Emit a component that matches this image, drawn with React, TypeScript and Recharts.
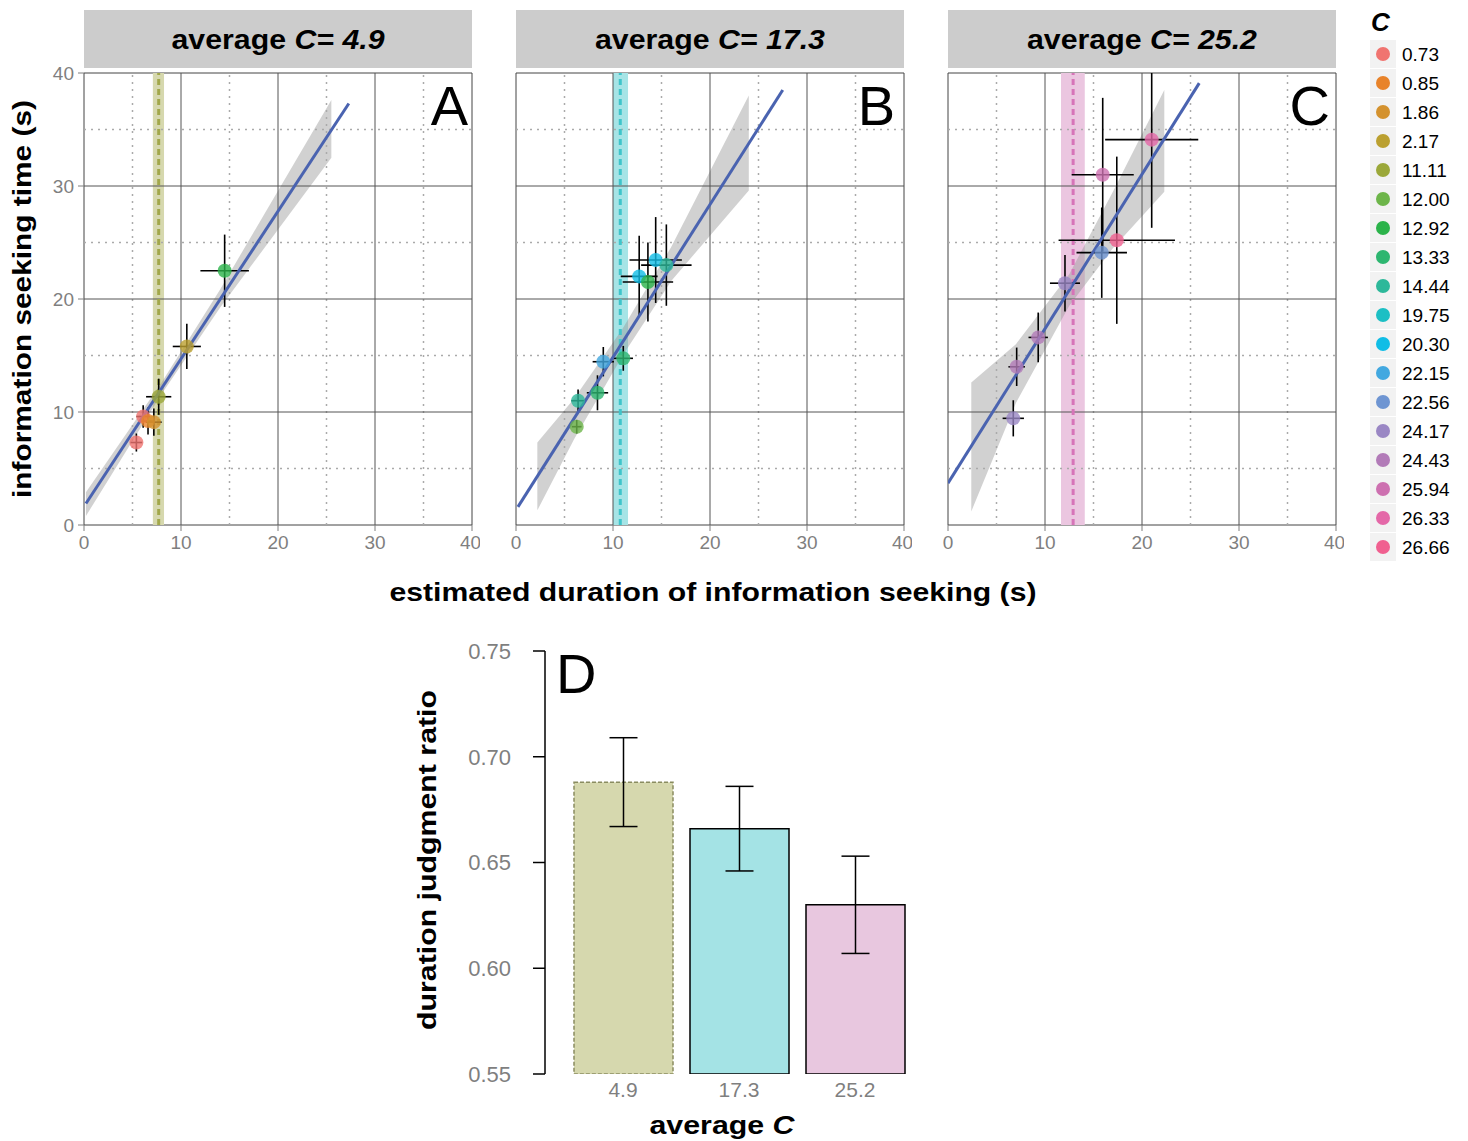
import React from 'react';
import {
  ComposedChart, Scatter, Line, Area, XAxis, YAxis, ReferenceLine, ReferenceArea,
  ErrorBar, BarChart, Bar, Cell,
} from 'recharts';

// ---------- data ----------
const legendLevels = ['0.73', '0.85', '1.86', '2.17', '11.11', '12.00', '12.92', '13.33', '14.44', '19.75', '20.30', '22.15', '22.56', '24.17', '24.43', '25.94', '26.33', '26.66'];
const legendColors = ['#F07470', '#E8832A', '#D4922E', '#BBA030', '#9BA83A', '#6DB54A', '#2BB34A', '#2DB670', '#2DB89A', '#1CBFC4', '#10BDE6', '#42A8E0', '#6E95D2', '#9A87C4', '#B27BB8', '#CD70B0', '#E468A8', '#F06090'];

const panelAverages = ['4.9', '17.3', '25.2'];
const panelLetters = ['A', 'B', 'C'];
const axisTicks = [0, 10, 20, 30, 40];
const majorGrid = [10, 20, 30];
const minorGrid = [5, 15, 25, 35];

const pointsA = [
  { x: 5.4, y: 7.3, ex: 0.6, ey: 0.8, c: '0.73' },
  { x: 6.1, y: 9.6, ex: 0.7, ey: 1.0, c: '0.73' },
  { x: 6.6, y: 9.2, ex: 0.7, ey: 1.2, c: '0.85' },
  { x: 7.2, y: 9.1, ex: 0.8, ey: 1.2, c: '1.86' },
  { x: 7.7, y: 11.35, ex: 1.3, ey: 1.6, c: '11.11' },
  { x: 10.6, y: 15.8, ex: 1.45, ey: 2.0, c: '2.17' },
  { x: 14.5, y: 22.5, ex: 2.5, ey: 3.2, c: '12.92' },
];
const pointsB = [
  { x: 6.26, y: 8.7, ex: 0.5, ey: 0.6, c: '12.00' },
  { x: 6.4, y: 11.0, ex: 0.7, ey: 1.0, c: '14.44' },
  { x: 8.4, y: 11.7, ex: 1.1, ey: 1.55, c: '13.33' },
  { x: 9.0, y: 14.45, ex: 1.1, ey: 1.3, c: '22.15' },
  { x: 11.06, y: 14.75, ex: 1.0, ey: 1.1, c: '13.33' },
  { x: 12.7, y: 22.0, ex: 1.9, ey: 3.6, c: '20.30' },
  { x: 13.6, y: 21.5, ex: 2.6, ey: 3.5, c: '12.92' },
  { x: 14.4, y: 23.45, ex: 2.7, ey: 3.8, c: '20.30' },
  { x: 15.5, y: 23.0, ex: 2.6, ey: 3.6, c: '14.44' },
];
const pointsC = [
  { x: 6.73, y: 9.44, ex: 1.1, ey: 1.6, c: '24.17' },
  { x: 7.08, y: 14.0, ex: 0.85, ey: 1.7, c: '24.43' },
  { x: 9.3, y: 16.6, ex: 1.0, ey: 2.2, c: '24.43' },
  { x: 12.06, y: 21.4, ex: 1.55, ey: 2.5, c: '24.17' },
  { x: 15.85, y: 24.1, ex: 2.6, ey: 4.0, c: '22.56' },
  { x: 17.4, y: 25.2, ex: 6.0, ey: 7.4, c: '26.66' },
  { x: 15.95, y: 31.0, ex: 3.2, ey: 6.8, c: '25.94' },
  { x: 21.0, y: 34.1, ex: 4.8, ey: [7.8, 5.9], c: '26.33' },
];

const fitA = [{ x: 0.2, fit: 1.9 }, { x: 27.3, fit: 37.3 }];
const fitB = [{ x: 0.2, fit: 1.6 }, { x: 27.5, fit: 38.5 }];
const fitC = [{ x: 0.0, fit: 3.7 }, { x: 25.9, fit: 39.1 }];

const bandA = [
  { x: 0.2, lo: 0.8, hi: 2.9 },
  { x: 8, lo: 11.6, hi: 12.6 },
  { x: 14, lo: 19.2, hi: 20.8 },
  { x: 25.5, lo: 32.5, hi: 37.6 },
];
const bandB = [
  { x: 2.2, lo: 1.3, hi: 7.3 },
  { x: 6, lo: 7.6, hi: 11.2 },
  { x: 11, lo: 15.0, hi: 17.4 },
  { x: 16, lo: 21.6, hi: 24.6 },
  { x: 24, lo: 29.6, hi: 38.0 },
];
const bandC = [
  { x: 2.4, lo: 1.2, hi: 12.6 },
  { x: 7, lo: 10.8, hi: 16.0 },
  { x: 12.5, lo: 19.4, hi: 22.2 },
  { x: 17, lo: 24.5, hi: 29.5 },
  { x: 22.3, lo: 29.5, hi: 38.5 },
];

const meanBands = [
  { lo: 7.1, hi: 8.25, mean: 7.7 },
  { lo: 10.0, hi: 11.55, mean: 10.75 },
  { lo: 11.65, hi: 14.1, mean: 12.9 },
];
const meanFill = ['#D6D8AE', '#A6E4E6', '#EBC6E0'];
const meanStroke = ['#A2A84A', '#3FC5CB', '#D674B8'];

const barCats = ['4.9', '17.3', '25.2'];
const barValues = [0.688, 0.666, 0.630];
const barErrors = [0.021, 0.020, 0.023];
const barTicks = [0.55, 0.6, 0.65, 0.7, 0.75];
const barFills = ['#D6D8AE', '#A4E3E5', '#E8C7DF'];

// ---------- helpers ----------
const FONT = '"Liberation Sans", Arial, Helvetica, sans-serif';
const GRAY = '#7f7f7f';
const colorOf = (c: string) => legendColors[legendLevels.indexOf(c)] || '#888';

const PointShape = (props: any) => {
  const { cx, cy, payload } = props;
  if (cx == null || cy == null) return null;
  return <circle cx={cx} cy={cy} r={7} fill={colorOf(payload.c)} fillOpacity={0.8} />;
};

type PanelProps = {
  idx: number;
  points: any[];
  fit: any[];
  band: any[];
  showY: boolean;
};

const Panel = ({ idx, points, fit, band, showY }: PanelProps) => {
  const bandData = band.map((b) => ({ x: b.x, range: [b.lo, b.hi] }));
  const mb = meanBands[idx];
  const marginLeft = showY ? 54 : 8;
  const width = showY ? 480 : 404;
  return (
    <ComposedChart
      width={width}
      height={560}
      margin={{ top: 73, right: 8, bottom: 5, left: marginLeft }}
    >
      <XAxis
        type="number"
        dataKey="x"
        domain={[0, 40]}
        ticks={axisTicks}
        allowDataOverflow
        axisLine={false}
        tickLine={{ stroke: GRAY }}
        tickSize={6}
        tickMargin={5}
        tick={{ fill: GRAY, fontSize: 19 }}
        height={30}
      />
      <YAxis
        type="number"
        domain={[0, 40]}
        ticks={axisTicks}
        allowDataOverflow
        hide={!showY}
        axisLine={false}
        tickLine={{ stroke: GRAY }}
        tickSize={6}
        tickMargin={4}
        tick={{ fill: GRAY, fontSize: 19 }}
        width={30}
      />
      {minorGrid.map((v) => (
        <ReferenceLine key={'mx' + v} x={v} stroke="#aaaaaa" strokeWidth={1.5} strokeDasharray="2 5" />
      ))}
      {minorGrid.map((v) => (
        <ReferenceLine key={'my' + v} y={v} stroke="#aaaaaa" strokeWidth={1.5} strokeDasharray="2 5" />
      ))}
      {majorGrid.map((v) => (
        <ReferenceLine key={'Mx' + v} x={v} stroke="#555555" strokeWidth={1} />
      ))}
      {majorGrid.map((v) => (
        <ReferenceLine key={'My' + v} y={v} stroke="#555555" strokeWidth={1} />
      ))}
      <ReferenceArea x1={0} x2={40} y1={0} y2={40} fill="none" stroke="#444" strokeWidth={1} />
      <ReferenceArea x1={mb.lo} x2={mb.hi} y1={0} y2={40} fill={meanFill[idx]} fillOpacity={1} stroke="none" />
      <ReferenceLine x={mb.mean} stroke={meanStroke[idx]} strokeWidth={3} strokeDasharray="6 4" />
      <Scatter data={points} dataKey="y" shape={PointShape} isAnimationActive={false}>
        <ErrorBar dataKey="ex" direction="x" width={0} stroke="#000" strokeWidth={1.6} />
        <ErrorBar dataKey="ey" direction="y" width={0} stroke="#000" strokeWidth={1.6} />
      </Scatter>
      <Area
        data={bandData}
        dataKey="range"
        type="linear"
        stroke="none"
        fill="#999999"
        fillOpacity={0.45}
        isAnimationActive={false}
        activeDot={false}
      />
      <Line
        data={fit}
        dataKey="fit"
        type="linear"
        stroke="#4A63B0"
        strokeWidth={3}
        dot={false}
        activeDot={false}
        isAnimationActive={false}
      />
    </ComposedChart>
  );
};

const BarPanel = () => {
  const data = barCats.map((c, i) => ({ cat: c, value: barValues[i], err: barErrors[i] }));
  return (
    <BarChart width={478} height={484} data={data} margin={{ top: 31, right: 10, left: 0, bottom: 0 }} barSize={99}>
      <XAxis
        dataKey="cat"
        axisLine={false}
        tickLine={false}
        padding={{ left: 20, right: 0 }}
        tick={{ fill: GRAY, fontSize: 21 }}
        height={30}
      />
      <YAxis
        type="number"
        domain={[0.55, 0.75]}
        ticks={barTicks}
        allowDataOverflow
        tickFormatter={(v: number) => v.toFixed(2)}
        axisLine={{ stroke: '#000', strokeWidth: 1.5 }}
        tickLine={{ stroke: '#000', strokeWidth: 1.5 }}
        tickSize={12}
        tickMargin={22}
        tick={{ fill: GRAY, fontSize: 22 }}
        width={100}
      />
      <Bar dataKey="value" isAnimationActive={false} stroke="#000" strokeWidth={1.5}>
        {data.map((d, i) => (
          <Cell
            key={d.cat}
            fill={barFills[i]}
            stroke={i === 0 ? '#8a8c60' : '#000'}
            strokeDasharray={i === 0 ? '4 2' : undefined}
          />
        ))}
        <ErrorBar dataKey="err" width={14} stroke="#000" strokeWidth={1.5} />
      </Bar>
    </BarChart>
  );
};

const stripX = [84, 516, 948];
const stripTextLen = [213, 230, 230];
const letterX = [468, 895, 1330];

export default function App() {
  const pts = [pointsA, pointsB, pointsC];
  const fits = [fitA, fitB, fitC];
  const bands = [bandA, bandB, bandC];
  return (
    <div style={{ position: 'absolute', left: 0, top: 0, width: 1468, height: 1141, background: '#fff', fontFamily: FONT }}>
      <div style={{ position: 'absolute', left: 0, top: 0 }}>
        <Panel idx={0} points={pts[0]} fit={fits[0]} band={bands[0]} showY />
      </div>
      <div style={{ position: 'absolute', left: 508, top: 0 }}>
        <Panel idx={1} points={pts[1]} fit={fits[1]} band={bands[1]} showY={false} />
      </div>
      <div style={{ position: 'absolute', left: 940, top: 0 }}>
        <Panel idx={2} points={pts[2]} fit={fits[2]} band={bands[2]} showY={false} />
      </div>
      <div style={{ position: 'absolute', left: 445, top: 620 }}>
        <BarPanel />
      </div>
      <svg
        width={1468}
        height={1141}
        style={{ position: 'absolute', left: 0, top: 0, pointerEvents: 'none', fontFamily: FONT }}
      >
        {stripX.map((x, i) => (
          <g key={'strip' + i}>
            <rect x={x} y={10} width={388} height={58} fill="#cccccc" />
            <text
              x={x + 194}
              y={49}
              textAnchor="middle"
              fontSize={27}
              fontWeight="bold"
              fill="#000"
              textLength={stripTextLen[i]}
              lengthAdjust="spacingAndGlyphs"
            >
              average <tspan fontStyle="italic">C= {panelAverages[i]}</tspan>
            </text>
            <text x={letterX[i]} y={125} textAnchor="end" fontSize={56} fill="#000">
              {panelLetters[i]}
            </text>
          </g>
        ))}
        <text x={556} y={693} fontSize={56} fill="#000">D</text>
        <text
          x={31}
          y={299}
          transform="rotate(-90 31 299)"
          textAnchor="middle"
          fontSize={26}
          fontWeight="bold"
          fill="#000"
          textLength={398}
          lengthAdjust="spacingAndGlyphs"
        >
          information seeking time (s)
        </text>
        <text
          x={713}
          y={601}
          textAnchor="middle"
          fontSize={26}
          fontWeight="bold"
          fill="#000"
          textLength={647}
          lengthAdjust="spacingAndGlyphs"
        >
          estimated duration of information seeking (s)
        </text>
        <text
          x={436}
          y={860}
          transform="rotate(-90 436 860)"
          textAnchor="middle"
          fontSize={26}
          fontWeight="bold"
          fill="#000"
          textLength={340}
          lengthAdjust="spacingAndGlyphs"
        >
          duration judgment ratio
        </text>
        <text
          x={722}
          y={1134}
          textAnchor="middle"
          fontSize={26}
          fontWeight="bold"
          fill="#000"
          textLength={145}
          lengthAdjust="spacingAndGlyphs"
        >
          average <tspan fontStyle="italic">C</tspan>
        </text>
        <text x={1371} y={31} fontSize={26} fontWeight="bold" fontStyle="italic" fill="#000">C</text>
        {legendLevels.map((lv, i) => {
          const cy = 54 + 29 * i;
          return (
            <g key={'lg' + lv}>
              <rect x={1370} y={cy - 14} width={26} height={28} fill="#f2f2f2" />
              <circle cx={1383} cy={cy} r={7} fill={legendColors[i]} />
              <text x={1402} y={cy + 7} fontSize={19} fill="#000">{lv}</text>
            </g>
          );
        })}
      </svg>
    </div>
  );
}
